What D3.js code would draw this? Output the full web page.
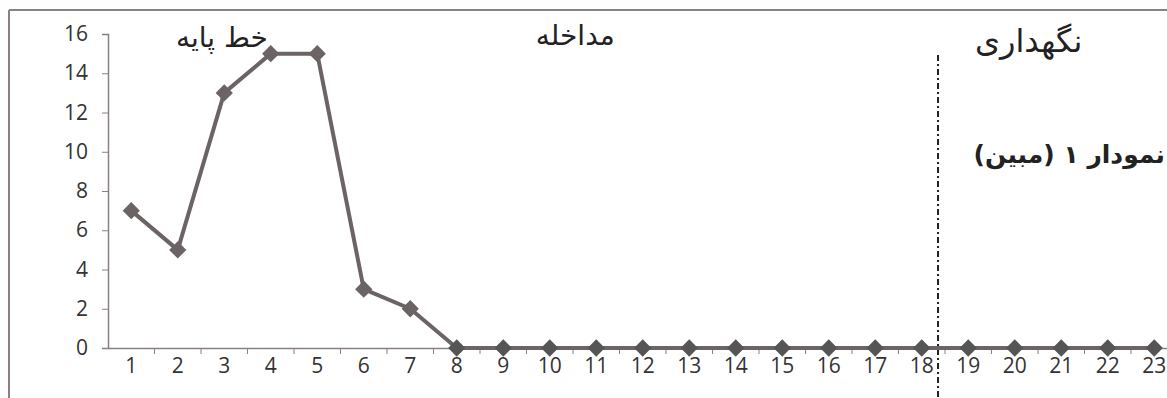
<!DOCTYPE html>
<html>
<head>
<meta charset="utf-8">
<script src="https://cdn.jsdelivr.net/npm/d3@7"></script>
<style>
  body { margin: 0; background: #fff; }
  svg { display: block; }
</style>
</head>
<body>
<svg id="chart"></svg>
<script>
const sessions = d3.range(1, 24);
const scores = [7, 5, 13, 15, 15, 3, 2, 0, 0, 0, 0, 0, 0, 0, 0, 0, 0, 0, 0, 0, 0, 0, 0];
const yTicks = [0, 2, 4, 6, 8, 10, 12, 14, 16];
const phaseLabels = [
  { text: "خط پایه", at: 2.95, y: 47, size: 28 },
  { text: "مداخله", at: 10.55, y: 45, size: 28 },
  { text: "نگهداری", at: 20.3, y: 52, size: 32 }
];
const phaseBreak = 18.35;
const chartTitle = "نمودار ۱ (مبین)";

const W = 1167, H = 398;
const margin = { top: 34, left: 108, bottom: 50 };
const step = 46.5;

const svg = d3.select("#chart").attr("width", W).attr("height", H);

// frame
svg.append("line").attr("x1", 9).attr("x2", 9).attr("y1", 10).attr("y2", H)
  .attr("stroke", "#8a8080").attr("stroke-width", 2);
svg.append("line").attr("x1", 9).attr("x2", W).attr("y1", 10).attr("y2", 10)
  .attr("stroke", "#8a8080").attr("stroke-width", 2);

const x = d3.scaleBand()
  .domain(sessions)
  .range([margin.left, margin.left + step * sessions.length])
  .paddingInner(0).paddingOuter(0);

const y = d3.scaleLinear().domain([0, 16]).range([348, 34]);

const cx = (d) => x(d) + x.bandwidth() / 2;

// y axis
const yAxis = svg.append("g")
  .attr("transform", `translate(${margin.left},0)`)
  .attr("font-size", 21)
  .attr("font-family", "Open Sans, sans-serif")
  .call(d3.axisLeft(y).tickValues(yTicks).tickSize(6).tickPadding(14));
yAxis.attr("font-size", 21).attr("font-family", "Open Sans, sans-serif");
yAxis.select(".domain").attr("stroke", "#8a8080").attr("stroke-width", 1.5);
yAxis.selectAll(".tick line").attr("stroke", "#8a8080");
yAxis.selectAll("text").attr("fill", "#333");

// x axis
const xAxis = svg.append("g")
  .attr("transform", `translate(0,${y(0)})`)
  .call(d3.axisBottom(x).tickSize(0).tickPadding(10));
xAxis.attr("font-size", 21).attr("font-family", "Open Sans, sans-serif");
xAxis.select(".domain").attr("stroke", "#8a8080").attr("stroke-width", 1.5);
xAxis.selectAll("text").attr("fill", "#333");
xAxis.selectAll(".tick").append("line")
  .attr("x1", x.bandwidth() / 2).attr("x2", x.bandwidth() / 2)
  .attr("y1", 0).attr("y2", 6).attr("stroke", "#8a8080");

// phase break line
const bx = x(Math.floor(phaseBreak)) + (phaseBreak - Math.floor(phaseBreak) + 0.5) * x.bandwidth();
svg.append("line")
  .attr("x1", bx).attr("x2", bx).attr("y1", 55).attr("y2", H)
  .attr("stroke", "#222").attr("stroke-width", 2)
  .attr("stroke-dasharray", "6,3,2,3");

// line
const pts = sessions.map((s, i) => [s, scores[i]]);
svg.append("path")
  .datum(pts)
  .attr("fill", "none")
  .attr("stroke", "#6b6364")
  .attr("stroke-width", 4)
  .attr("stroke-linejoin", "round")
  .attr("d", d3.line().x((d) => cx(d[0])).y((d) => y(d[1])));

svg.selectAll(".mark")
  .data(pts)
  .join("path")
  .attr("class", "mark")
  .attr("transform", (d) => `translate(${cx(d[0])},${y(d[1])})`)
  .attr("d", d3.symbol(d3.symbolDiamond2, 190))
  .attr("fill", (d) => d[1] === 0 ? "#555" : "#6b6364");

// labels
phaseLabels.forEach((p) => {
  svg.append("text")
    .attr("x", x(Math.floor(p.at)) + (p.at - Math.floor(p.at) + 0.5) * x.bandwidth())
    .attr("y", p.y)
    .attr("text-anchor", "middle")
    .style("font-family", "DejaVu Serif, DejaVu Sans, serif")
    .style("font-size", p.size + "px")
    .attr("fill", "#222")
    .attr("direction", "rtl")
    .text(p.text);
});

svg.append("text")
  .attr("x", 1165).attr("y", 163)
  .attr("text-anchor", "start")
  .attr("direction", "rtl")
  .style("font-family", "DejaVu Sans, sans-serif")
  .style("font-size", "25px").attr("font-weight", "bold")
  .attr("fill", "#222")
  .text(chartTitle);
</script>
</body>
</html>
